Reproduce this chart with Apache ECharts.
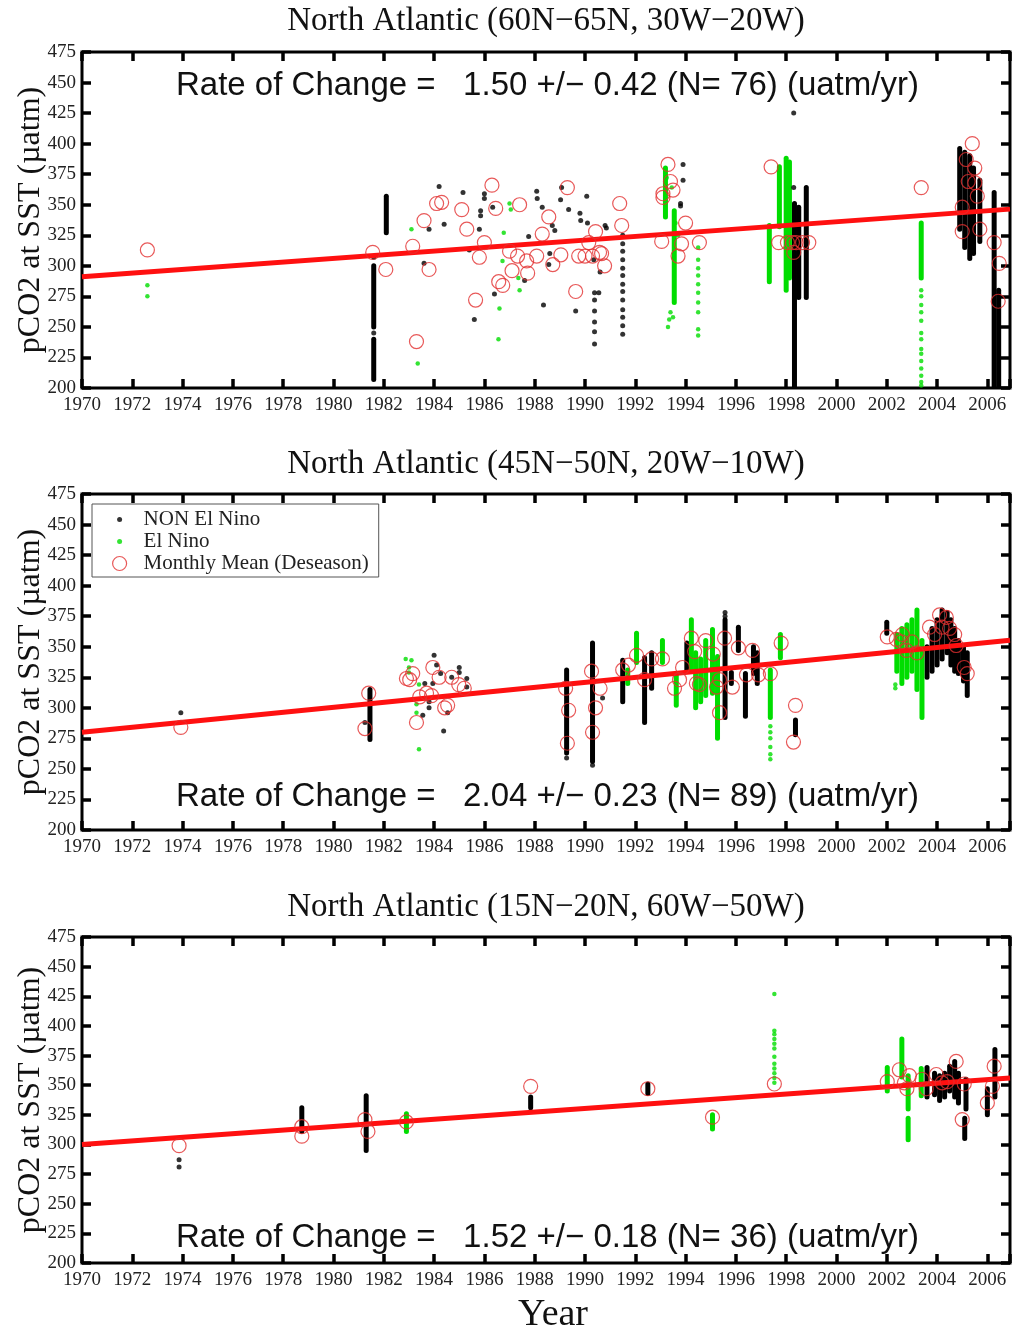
<!DOCTYPE html>
<html>
<head>
<meta charset="utf-8">
<script src="https://cdn.jsdelivr.net/npm/echarts@6/dist/echarts.min.js"></script>
<style>html,body{margin:0;padding:0;background:#fff;}#chart{width:1013px;height:1335px;}</style>
</head>
<body>
<div id="chart"></div>
<script>
// ---------- axis ranges / tick labels ----------
const xRange = [1970, 2006.9];
const xStep = 2;
const yRange = [200, 475];
const yStep = 25;

const panelTitles = [
  'North Atlantic (60N\u221265N, 30W\u221220W)',
  'North Atlantic (45N\u221250N, 20W\u221210W)',
  'North Atlantic (15N\u221220N, 60W\u221250W)'
];
const rateTexts = [
  'Rate of Change =   1.50 +/\u2212 0.42 (N= 76) (uatm/yr)',
  'Rate of Change =   2.04 +/\u2212 0.23 (N= 89) (uatm/yr)',
  'Rate of Change =   1.52 +/\u2212 0.18 (N= 36) (uatm/yr)'
];
const yAxisName = 'pCO2 at SST (\u00b5atm)';
const xAxisName = 'Year';
const legendNames = ['NON El Nino', 'El Nino', 'Monthly Mean (Deseason)'];

// ---------- Panel 1: 60N-65N, 30W-20W ----------
const p1Trend = [[1970, 291], [2006.9, 346.4]];
const p1Circles = [
  [1972.6,313],[1981.56,311],[1982.08,297],[1983.15,316],[1983.6,337],[1983.3,238],[1983.8,297],
  [1984.1,351],[1984.3,352],[1985.1,346],[1985.3,330],[1985.65,272],[1985.8,307],[1986.0,319],
  [1986.3,366],[1986.45,347],[1986.57,287],[1986.73,284],[1987.0,312],[1987.1,296],[1987.32,308],
  [1987.4,350],[1987.68,304],[1987.72,294],[1988.08,308],[1988.3,326],[1988.56,340],[1988.72,301],
  [1989.04,309],[1989.3,364],[1989.63,279],[1989.75,308],[1990.0,308],[1990.15,319],[1990.3,308],
  [1990.42,328],[1990.58,311],[1990.66,310],[1990.78,300],[1991.38,351],[1991.46,333],
  [1993.05,320],[1993.1,359],[1993.3,383],[1993.4,369],[1993.5,362],[1993.1,356],[1994.0,335],
  [1993.84,318],[1993.7,308],[1994.55,319],
  [1997.4,381],[1997.7,319],[1998.05,319],[1998.25,319],[1998.4,319],[1998.65,319],[1998.9,319],[1998.3,311],
  [2003.37,364],[2005.4,400],[2005.16,387],[2005.5,380],[2005.24,369],[2005.5,368],[2005.6,357],
  [2005.0,348],[2005.0,328],[2005.7,330],[2006.27,319],[2006.47,302],[2006.43,271]
];
const p1Black = [
  [1981.6,307],[1981.6,245],[1983.6,302],[1983.8,330],[1984.2,365],[1984.4,334],[1985.15,360],[1985.4,313],
  [1985.6,256],[1985.8,330],[1985.85,345],[1985.85,341],[1986.0,359],[1986.0,355],[1986.33,348],[1986.4,277],
  [1987.6,288],[1987.76,324],[1988.08,361],[1988.1,355],[1988.3,348],[1988.35,268],[1988.6,310],[1988.56,301],
  [1988.7,333],[1988.8,329],[1989.03,354],[1989.07,364],[1989.35,346],[1989.63,263],[1989.8,343],[1989.83,337],
  [1990.07,357],[1990.1,335],[1990.35,305],[1990.38,278],[1990.38,272],[1990.38,263],[1990.38,254],[1990.38,246],
  [1990.38,236],[1990.55,278],[1990.6,295],[1990.8,333],[1990.85,331],
  [1991.5,325],[1991.5,318],[1991.5,312],[1991.5,305],[1991.5,298],[1991.5,292],[1991.5,285],[1991.5,279],
  [1991.5,272],[1991.5,264],[1991.5,258],[1991.5,251],[1991.5,244],
  [1993.9,383],[1993.9,370],[1993.8,351],[1993.8,349],[1998.3,425],[1998.3,364]
];
const p1BlackSeg = [
  [1981.6,250,300],[1981.6,207,240],[1982.1,327,357],
  [1998.33,200,351],[1998.5,274,348],[1998.8,274,364],
  [2004.9,330,396],[2005.1,315,393],[2005.3,306,390],[2005.45,310,380],[2005.7,320,370],
  [2006.27,200,360],[2006.45,200,280]
];
const p1Green = [
  [1972.6,284],[1972.6,275],[1983.1,330],[1983.35,220],[1986.77,327],[1986.72,304],[1986.6,265],[1986.56,240],
  [1987.0,351],[1987.05,346],[1987.35,290],[1987.4,280],
  [1993.3,250],[1993.35,256],[1993.4,262],[1993.5,258],[1993.25,372],[1993.45,364],[1993.7,325],[1993.6,335],
  [1994.5,315],[1994.5,305],[1994.5,298],[1994.5,292],[1994.5,285],[1994.5,278],[1994.5,270],[1994.5,262],
  [1994.5,248],[1994.5,243],
  [2003.37,280],[2003.37,275],[2003.37,268],[2003.37,262],[2003.37,255],[2003.37,245],[2003.37,240],
  [2003.37,232],[2003.37,228],[2003.37,222],[2003.37,216],[2003.37,210],[2003.37,205],[2003.37,202]
];
const p1GreenSeg = [
  [1993.2,340,380],[1993.55,270,345],[1997.33,287,333],[1997.73,332,381],[1998.0,280,388],[1998.13,290,385],
  [2003.37,290,335]
];

// ---------- Panel 2: 45N-50N, 20W-10W ----------
const p2Trend = [[1970, 280], [2006.9, 355.3]];
const p2Circles = [
  [1973.93,284],[1981.4,312],[1981.25,283],[1982.9,324],[1983.15,328],[1983.03,323],[1983.3,288],[1983.43,309],
  [1983.7,312],[1983.9,310],[1983.95,333],[1984.2,325],[1984.7,325],[1984.42,300],[1984.54,302],[1984.98,319],
  [1985.2,316],
  [1989.23,316],[1989.35,298],[1989.3,271],[1990.26,330],[1990.42,300],[1990.3,280],[1990.6,316],
  [1991.5,331],[1991.73,335],[1992.05,343],[1992.65,340],[1992.37,323],[1993.08,340],[1993.56,316],[1993.76,323],
  [1993.88,333],[1994.23,357],[1994.36,346],[1994.43,320],[1994.55,319],[1994.8,355],[1995.1,344],[1995.23,317],
  [1995.35,323],[1995.35,296],[1995.55,357],[1995.86,317],[1996.1,349],[1996.42,327],[1996.66,347],[1996.9,327],
  [1997.37,328],[1997.8,353],[1998.37,302],[1998.29,272],
  [2002.02,358],[2002.38,356],[2002.62,360],[2002.58,354],[2002.78,347],[2003.0,354],[2003.2,345],[2003.7,366],
  [2003.9,360],[2004.1,376],[2004.37,374],[2004.2,366],[2004.5,365],[2004.7,360],[2004.76,351],[2005.08,333],
  [2005.2,328]
];
const p2Black = [
  [1973.93,296],[1981.25,288],[1984.0,343],[1984.1,335],[1984.26,328],[1985.0,333],[1985.0,329],[1985.3,324],
  [1985.3,317],[1984.7,325],[1983.63,320],[1983.95,320],[1983.8,300],[1983.8,305],[1983.55,294],[1984.38,281],
  [1984.54,296],[1990.7,308],[1995.57,378],[1995.57,375],[1990.3,253],[1989.27,259]
];
const p2BlackSeg = [
  [1981.45,274,315],[1989.27,263,331],[1990.3,256,353],[1991.5,305,339],[1992.37,288,341],[1992.65,316,345],
  [1994.05,331,353],[1995.57,292,372],[1995.82,320,329],[1996.1,347,366],[1996.38,293,328],[1996.7,328,350],
  [1996.85,320,345],[1998.37,278,290],[2002.0,361,370],
  [2003.6,325,350],[2003.8,330,365],[2004.0,335,372],[2004.2,340,380],[2004.4,345,378],[2004.55,335,372],
  [2004.7,330,365],[2004.85,328,355],[2005.05,322,350],[2005.2,310,345]
];
const p2Green = [
  [1982.87,340],[1983.1,339],[1983.0,333],[1983.0,329],[1983.4,319],[1983.3,303],[1983.3,296],[1983.4,266],
  [1997.37,285],[1997.37,280],[1997.37,275],[1997.37,268],[1997.37,262],[1997.37,258],
  [2002.34,316],[2002.34,319]
];
const p2GreenSeg = [
  [1991.7,320,331],[1992.05,337,361],[1993.08,337,355],[1993.63,302,328],[1994.23,330,372],[1994.4,300,345],
  [1994.6,305,340],[1994.8,310,355],[1995.07,312,364],[1995.27,275,342],[1997.37,292,331],[1997.77,341,360],
  [2002.4,330,360],[2002.6,320,365],[2002.8,325,368],[2003.0,330,372],[2003.2,315,380],[2003.4,292,355]
];

// ---------- Panel 3: 15N-20N, 60W-50W ----------
const p3Trend = [[1970, 300], [2006.9, 356.1]];
const p3Circles = [
  [1973.86,299],[1978.74,307],[1978.74,315],[1981.25,321],[1981.37,311],[1982.9,319],[1987.84,349],
  [1992.5,347],[1995.07,323],[1997.53,351],[2002.02,353],[2002.5,363],[2002.9,358],[2002.8,347],[2002.7,352],
  [2003.4,355],[2003.57,347],[2003.97,359],[2004.2,352],[2004.4,353],[2004.76,370],[2005.08,351],[2005.0,321],
  [2006.0,335],[2006.2,349],[2006.27,366]
];
const p3Black = [
  [1973.86,287],[1973.86,281]
];
const p3BlackSeg = [
  [1978.74,311,331],[1981.3,295,341],[1987.84,331,340],[1992.5,343,351],
  [2003.6,340,365],[2003.9,342,360],[2004.1,337,358],[2004.3,340,360],[2004.5,345,366],[2004.7,340,370],
  [2004.85,335,360],[2005.15,330,355],[2005.1,305,322],[2006.0,325,347],[2006.3,340,380]
];
const p3Green = [
  [1997.53,427],[1997.53,396],[1997.53,393],[1997.53,389],[1997.53,385],[1997.53,381],[1997.53,374],
  [1997.53,368],[1997.53,364],[1997.53,360],[1997.53,356],[1997.53,352]
];
const p3GreenSeg = [
  [1982.9,311,326],[1995.07,313,325],[2002.02,345,365],[2002.6,357,389],[2002.85,330,358],[2002.85,304,322],
  [2003.37,341,364]
];

// ---------- layout ----------
const panels = [
  {top: 52, height: 336, titleY: 21, rateY: 86,
   circles: p1Circles, black: p1Black, blackSeg: p1BlackSeg, green: p1Green, greenSeg: p1GreenSeg, trend: p1Trend},
  {top: 494, height: 336, titleY: 464, rateY: 797,
   circles: p2Circles, black: p2Black, blackSeg: p2BlackSeg, green: p2Green, greenSeg: p2GreenSeg, trend: p2Trend},
  {top: 937, height: 335, titleY: 907, rateY: 1238,
   circles: p3Circles, black: p3Black, blackSeg: p3BlackSeg, green: p3Green, greenSeg: p3GreenSeg, trend: p3Trend}
];

const GRID_LEFT = 82, GRID_W = 928;
const SERIF = '"Liberation Serif", "Times New Roman", serif';
const SANS = '"Liberation Sans", Arial, sans-serif';
const BLACK = '#000000', GREEN = '#00dd00', RED_C = '#e23030', RED_L = '#ff1010';

const grids = [], xAxes = [], yAxes = [], series = [], graphics = [];

function segRenderer(color) {
  return function (params, api) {
    const x = api.value(0);
    const p0 = api.coord([x, api.value(1)]);
    const p1 = api.coord([x, api.value(2)]);
    return {
      type: 'line',
      shape: {x1: p0[0], y1: p0[1], x2: p1[0], y2: p1[1]},
      style: {stroke: color, lineWidth: 5, lineCap: 'round'}
    };
  };
}

const tickStyle = {show: true, inside: true, length: 9, lineStyle: {color: '#000', width: 3.5}};

panels.forEach(function (p, i) {
  grids.push({left: GRID_LEFT, width: GRID_W, top: p.top, height: p.height,
    show: true, borderColor: '#000', borderWidth: 3, backgroundColor: '#fff'});
  // bottom x axis
  xAxes.push({
    type: 'value', gridIndex: i, position: 'bottom', min: xRange[0], max: xRange[1], interval: xStep,
    axisLine: {show: false}, axisTick: tickStyle, splitLine: {show: false},
    axisLabel: {margin: 8, color: '#222', fontFamily: SERIF, fontSize: 19,
      formatter: function (v) { return Number.isInteger(v) ? String(v) : ''; }},
    name: i === 2 ? xAxisName : '', nameLocation: 'middle', nameGap: 33, nameMoveOverlap: false,
    nameTextStyle: {fontFamily: SERIF, fontSize: 38, color: '#111', padding: [0, 0, 0, 14]}
  });
  // top x axis (ticks only)
  xAxes.push({
    type: 'value', gridIndex: i, position: 'top', min: xRange[0], max: xRange[1], interval: xStep,
    axisLine: {show: false}, axisTick: tickStyle, splitLine: {show: false}, axisLabel: {show: false}
  });
  // left y axis
  yAxes.push({
    type: 'value', gridIndex: i, position: 'left', min: yRange[0], max: yRange[1], interval: yStep,
    axisLine: {show: false}, axisTick: tickStyle, splitLine: {show: false},
    axisLabel: {margin: 6, color: '#222', fontFamily: SERIF, fontSize: 19},
    name: yAxisName, nameLocation: 'middle', nameRotate: 90, nameGap: 35, nameMoveOverlap: false,
    nameTextStyle: {fontFamily: SERIF, fontSize: 32, color: '#111'}
  });
  // right y axis (ticks only)
  yAxes.push({
    type: 'value', gridIndex: i, position: 'right', min: yRange[0], max: yRange[1], interval: yStep,
    axisLine: {show: false}, axisTick: tickStyle, splitLine: {show: false}, axisLabel: {show: false}
  });

  const xi = i * 2, yi = i * 2;
  series.push({
    name: legendNames[0], type: 'scatter', xAxisIndex: xi, yAxisIndex: yi, data: p.black,
    symbol: 'circle', symbolSize: 5, itemStyle: {color: BLACK}, z: 2, silent: true
  });
  series.push({
    name: legendNames[1], type: 'scatter', xAxisIndex: xi, yAxisIndex: yi, data: p.green,
    symbol: 'circle', symbolSize: 4.5, itemStyle: {color: GREEN}, z: 2, silent: true
  });
  series.push({
    name: legendNames[2], type: 'scatter', xAxisIndex: xi, yAxisIndex: yi, data: p.circles,
    symbol: 'circle', symbolSize: 14,
    itemStyle: {color: 'rgba(0,0,0,0)', borderColor: RED_C, borderWidth: 1.2}, z: 5, silent: true
  });
  series.push({
    name: legendNames[0], type: 'custom', xAxisIndex: xi, yAxisIndex: yi, data: p.blackSeg,
    encode: {x: 0, y: [1, 2]}, renderItem: segRenderer(BLACK), itemStyle: {color: BLACK},
    clip: true, z: 2, silent: true
  });
  series.push({
    name: legendNames[1], type: 'custom', xAxisIndex: xi, yAxisIndex: yi, data: p.greenSeg,
    encode: {x: 0, y: [1, 2]}, renderItem: segRenderer(GREEN), itemStyle: {color: GREEN},
    clip: true, z: 2, silent: true
  });
  series.push({
    name: 'trend' + (i + 1), type: 'line', xAxisIndex: xi, yAxisIndex: yi, data: p.trend,
    showSymbol: false, symbol: 'none', lineStyle: {color: RED_L, width: 5}, z: 4, silent: true
  });

  graphics.push({
    type: 'text', x: GRID_LEFT + GRID_W / 2, y: p.titleY, z: 10,
    style: {text: panelTitles[i], font: '33px ' + SERIF, fill: '#111',
      textAlign: 'center', align: 'center', textVerticalAlign: 'middle', verticalAlign: 'middle'}
  });
  graphics.push({
    type: 'text', x: 176, y: p.rateY, z: 10,
    style: {text: rateTexts[i], font: '33px ' + SANS, fill: '#111',
      textAlign: 'left', align: 'left', textVerticalAlign: 'middle', verticalAlign: 'middle'}
  });
});

const dotIcon = 'path://M0,0M14,14M4.5,7A2.5,2.5,0,1,0,9.5,7A2.5,2.5,0,1,0,4.5,7Z';

const option = {
  animation: false,
  backgroundColor: '#ffffff',
  grid: grids,
  xAxis: xAxes,
  yAxis: yAxes,
  series: series,
  graphic: graphics,
  legend: {
    show: true, left: 92, top: 504, orient: 'vertical',
    backgroundColor: '#fff', borderColor: '#555', borderWidth: 1, borderRadius: 0,
    padding: [5, 10, 3, 20], itemWidth: 14, itemHeight: 14, itemGap: 1,
    textStyle: {fontFamily: SERIF, fontSize: 21, lineHeight: 21, color: '#222', padding: [0, 0, 0, 12]},
    selectedMode: false,
    data: [
      {name: legendNames[0], icon: dotIcon, itemStyle: {color: BLACK}},
      {name: legendNames[1], icon: dotIcon, itemStyle: {color: GREEN}},
      {name: legendNames[2], icon: 'circle', itemStyle: {color: 'rgba(0,0,0,0)', borderColor: RED_C, borderWidth: 1.2}}
    ]
  }
};

const chart = echarts.init(document.getElementById('chart'), null, {renderer: 'canvas'});
chart.setOption(option);
</script>
</body>
</html>
